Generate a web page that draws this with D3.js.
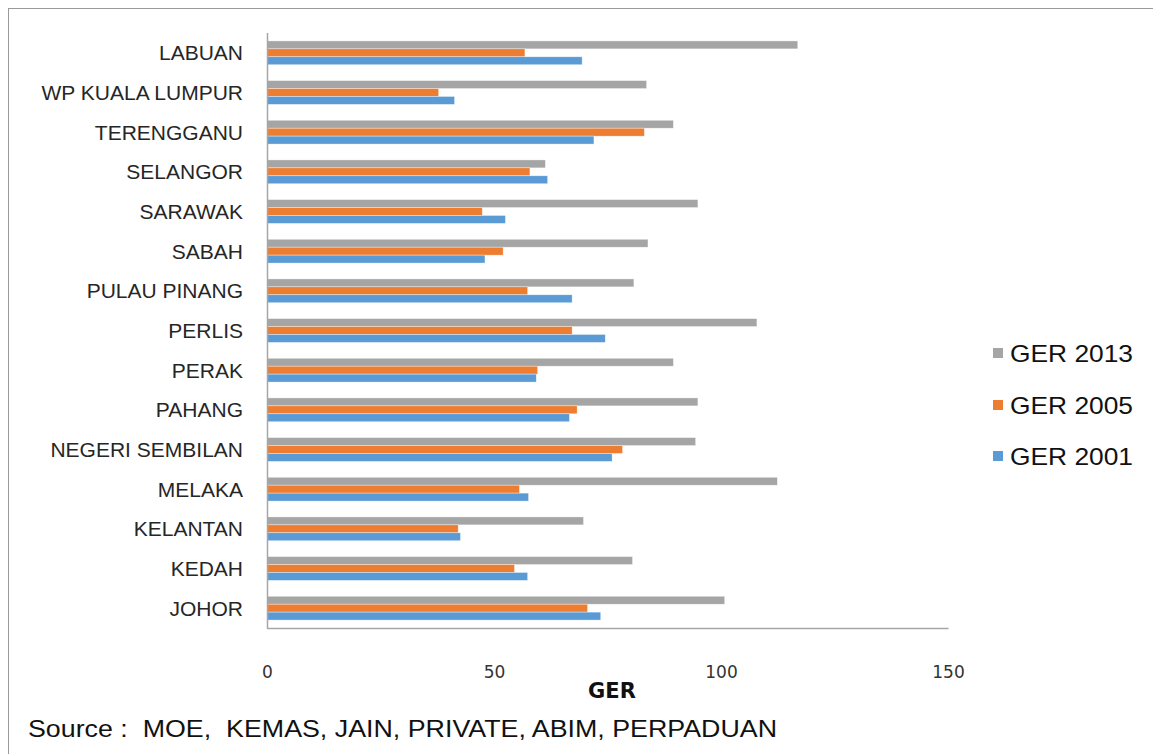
<!DOCTYPE html>
<html><head><meta charset="utf-8">
<script src="https://cdn.jsdelivr.net/npm/d3@7"></script>
<style>body{margin:0;background:#fff;} svg{display:block;} text{white-space:pre;}</style>
</head><body>
<svg id="c" width="1153" height="754"></svg>
<script>
const categories = ["LABUAN","WP KUALA LUMPUR","TERENGGANU","SELANGOR","SARAWAK","SABAH","PULAU PINANG","PERLIS","PERAK","PAHANG","NEGERI SEMBILAN","MELAKA","KELANTAN","KEDAH","JOHOR"];
const seriesNames = ["GER 2013","GER 2005","GER 2001"];
const ger2013 = [116.8,83.5,89.4,61.2,94.8,83.8,80.7,107.8,89.4,94.8,94.3,112.3,69.6,80.4,100.7];
const ger2005 = [56.7,37.7,83.0,57.8,47.3,51.9,57.3,67.1,59.5,68.2,78.2,55.5,42.0,54.4,70.5];
const ger2001 = [69.3,41.2,71.9,61.7,52.4,47.9,67.1,74.4,59.2,66.5,75.9,57.5,42.5,57.3,73.4];
const xTicks = [0,50,100,150];
const colors = ["#a5a5a5","#ed7d31","#5b9bd5"];
const seriesValues = [ger2013, ger2005, ger2001];

const svg = d3.select("#c");
// outer chart frame
svg.append("rect").attr("x",8.5).attr("y",8.5).attr("width",1160).attr("height",760)
  .attr("fill","none").attr("stroke","#9a9a9a").attr("stroke-width",1);

const x = d3.scaleLinear().domain([0,150]).range([267.5,948.5]);
const y = d3.scaleBand().domain(categories).range([33,628]).paddingInner(0.4).paddingOuter(0.2);
const ys = d3.scaleBand().domain(seriesNames).range([0,y.bandwidth()]);

const g = svg.append("g");
seriesNames.forEach((s,i)=>{
  g.selectAll(null).data(categories).enter().append("rect")
    .attr("x",x(0)).attr("y",d=>y(d)+ys(s))
    .attr("width",(d,j)=>x(seriesValues[i][j])-x(0))
    .attr("height",ys.bandwidth())
    .attr("fill",colors[i]).attr("stroke","#fff").attr("stroke-opacity",0.6).attr("stroke-width",0.6);
});

// axes lines
svg.append("line").attr("x1",x(0)).attr("x2",x(0)).attr("y1",33).attr("y2",629)
  .attr("stroke","#a6a6a6").attr("stroke-width",1.5);
svg.append("line").attr("x1",x(0)).attr("x2",x(150)).attr("y1",628.5).attr("y2",628.5)
  .attr("stroke","#a6a6a6").attr("stroke-width",1.5);

// category labels
svg.selectAll(".cl").data(categories).enter().append("text")
  .attr("x",243).attr("y",d=>y(d)+y.bandwidth()/2)
  .attr("text-anchor","end").attr("dominant-baseline","central")
  .attr("font-family","Liberation Sans, Arial, sans-serif").attr("font-size",21)
  .attr("fill","#262626").text(d=>d);

// x tick labels
svg.selectAll(".xt").data(xTicks).enter().append("text")
  .attr("x",d=>x(d)).attr("y",672).attr("text-anchor","middle").attr("dominant-baseline","central")
  .attr("font-family","DejaVu Sans, sans-serif").attr("font-size",17)
  .attr("fill","#333").text(d=>d);

// axis title
svg.append("text").attr("x",612).attr("y",691).attr("text-anchor","middle").attr("dominant-baseline","central")
  .attr("font-family","DejaVu Sans, sans-serif").attr("font-weight","bold").attr("font-size",21)
  .attr("fill","#111").text("GER");

// source
svg.append("text").attr("x",28).attr("y",728).attr("dominant-baseline","central")
  .attr("font-family","Liberation Sans, Arial, sans-serif").attr("font-size",24)
  .attr("textLength",749).attr("lengthAdjust","spacingAndGlyphs")
  .attr("fill","#111").text("Source :  MOE,  KEMAS, JAIN, PRIVATE, ABIM, PERPADUAN");

// legend
const legY = [353,405,456];
seriesNames.forEach((s,i)=>{
  svg.append("rect").attr("x",993).attr("y",legY[i]-5).attr("width",10).attr("height",10).attr("fill",colors[i]);
  svg.append("text").attr("x",1010).attr("y",legY[i]).attr("dominant-baseline","central")
    .attr("font-family","Liberation Sans, Arial, sans-serif").attr("font-size",24)
    .attr("textLength",123).attr("lengthAdjust","spacingAndGlyphs")
    .attr("fill","#111").text(s);
});
</script>
</body></html>
